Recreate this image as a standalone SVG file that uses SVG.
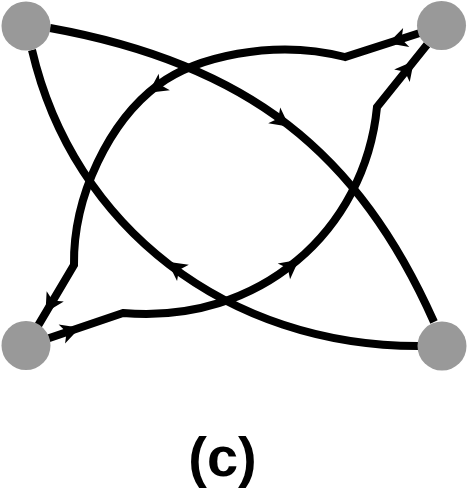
<svg xmlns="http://www.w3.org/2000/svg" xmlns:xlink="http://www.w3.org/1999/xlink" width="470" height="494" viewBox="0 0 470 494">
<style>
.edge{fill:none;stroke:#000;stroke-width:8;stroke-linejoin:miter;stroke-linecap:butt}
.node{fill:#999999}
.arr{fill:#000}
.lbl{font-family:"Liberation Sans",Arial,sans-serif;font-weight:bold;font-size:56px;fill:#000}
</style>
<defs>
<path id="ah" class="arr" d="M3,0 L-16,-10 L-11,0 L-16,10 Z"/>
</defs>
<rect width="470" height="494" fill="#fff"/>
<g id="connectors">
<path class="edge" d="M50,28 C248,63.7 358,152 434,322"/>
<path class="edge" d="M32,50 C73.4,227.6 227.8,346 418,346"/>
<path class="edge" d="M419,33.3 L345,57 C272,38 194,58 158,85 C110,121 73,195 74,265 L38.2,325.4"/>
<path class="edge" d="M48.7,338.3 L123,313 C260,325 365,230 377,107 L427,44.7"/>
<use xlink:href="#ah" transform="translate(287,125) rotate(37)"/>
<use xlink:href="#ah" transform="translate(170,263.5) rotate(216)"/>
<use xlink:href="#ah" transform="translate(151,91) rotate(146)"/>
<use xlink:href="#ah" transform="translate(391,42.4) rotate(162)"/>
<use xlink:href="#ah" transform="translate(47,310) rotate(121)"/>
<use xlink:href="#ah" transform="translate(77,328.8) rotate(-18.8)"/>
<use xlink:href="#ah" transform="translate(296.5,261.5) rotate(-38)"/>
<use xlink:href="#ah" transform="translate(412,63.3) rotate(-51)"/>
</g>
<g id="node-tl"><circle class="node" cx="26" cy="26" r="24.5"/></g>
<g id="node-tr"><circle class="node" cx="441.5" cy="25.5" r="24.5"/></g>
<g id="node-bl"><circle class="node" cx="26" cy="345.5" r="24.5"/></g>
<g id="node-br"><circle class="node" cx="442" cy="346" r="24.5"/></g>
<text class="lbl" x="222.5" y="476" text-anchor="middle">(c)</text>
</svg>
